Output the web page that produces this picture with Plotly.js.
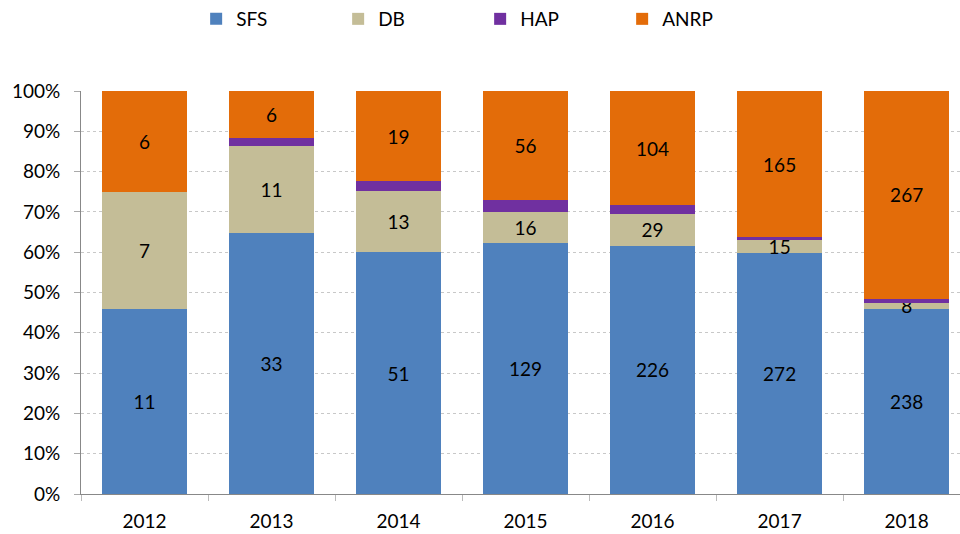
<!DOCTYPE html>
<html><head><meta charset="utf-8">
<script src="https://cdn.plot.ly/plotly-3.0.1.min.js"></script>
<style>html,body{margin:0;padding:0;background:#fff;overflow:hidden}</style>
</head><body>
<div id="chart" style="width:960px;height:534px"></div>
<script>
const years = ['2012','2013','2014','2015','2016','2017','2018'];
const sfs  = [11, 33, 51, 129, 226, 272, 238];
const db   = [7, 11, 13, 16, 29, 15, 8];
const hap  = [0, 1, 2, 6, 8, 3, 5];
const anrp = [6, 6, 19, 56, 104, 165, 267];
const seriesNames = ['SFS','DB','HAP','ANRP'];
const seriesColors = ['#4F81BD','#C4BD97','#7030A0','#E36C09'];
const seriesData = [sfs, db, hap, anrp];
const showLabels = [true, true, false, true];

const font = 'Lato, "Open Sans", sans-serif';
const traces = seriesData.map((vals, i) => ({
  type: 'bar',
  name: seriesNames[i],
  x: years,
  y: vals,
  marker: {color: seriesColors[i], line: {width: 0}},
  text: showLabels[i] ? vals.map(String) : undefined,
  textposition: showLabels[i] ? 'inside' : 'none',
  insidetextanchor: 'middle',
  textangle: 0,
  constraintext: 'none',
  textfont: {family: font, size: 19, color: '#000'},
  hoverinfo: 'none'
}));

const layout = {
  width: 960, height: 534,
  margin: {l: 81, r: 0, t: 90, b: 40},
  barmode: 'stack',
  barnorm: 'percent',
  bargap: 0.33,
  paper_bgcolor: '#fff',
  plot_bgcolor: '#fff',
  font: {family: font, size: 19, color: '#000'},
  showlegend: true,
  legend: {
    orientation: 'h', x: 0.131, xanchor: 'left', y: 1.178, yanchor: 'middle',
    entrywidth: 97, entrywidthmode: 'pixels',
    font: {family: font, size: 19, color: '#000'},
    traceorder: 'normal'
  },
  xaxis: {
    type: 'category',
    range: [-0.5, 6.42],
    automargin: false,
    showline: true, linecolor: '#888', linewidth: 1,
    ticks: 'outside', tickson: 'boundaries', ticklen: 6, tickcolor: '#bbb',
    ticklabelstandoff: 10,
    tickfont: {family: font, size: 19, color: '#000'},
    showgrid: false, zeroline: false
  },
  yaxis: {
    range: [0, 100],
    automargin: false,
    dtick: 10, ticksuffix: '%',
    showline: true, linecolor: '#888', linewidth: 1,
    ticks: 'outside', ticklen: 6, tickcolor: '#aaa',
    ticklabelstandoff: 10,
    tickfont: {family: font, size: 19, color: '#000'},
    showgrid: true, gridcolor: '#c8c8c8', griddash: 'dot', gridwidth: 1,
    zeroline: false
  }
};

Plotly.newPlot('chart', traces, layout, {displayModeBar: false, staticPlot: true});
</script>
</body></html>
